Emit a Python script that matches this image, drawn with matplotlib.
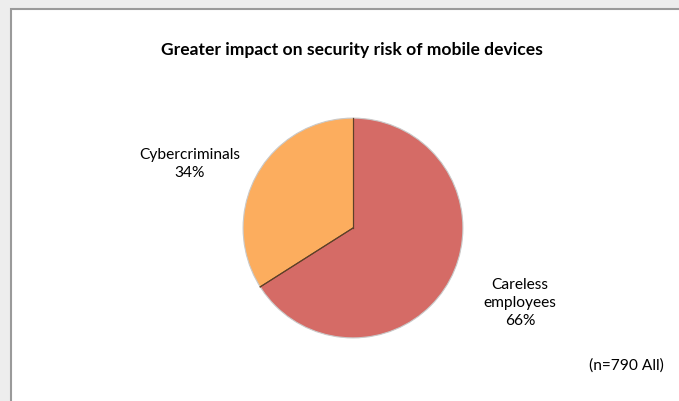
import matplotlib
matplotlib.use("Agg")
import numpy as np
import matplotlib.pyplot as plt
from matplotlib.patches import Rectangle, Circle

# survey answers
labels = ["Careless\nemployees", "Cybercriminals"]
shares = [66, 34]
colors = ["#D56B66", "#FCAD5E"]

W, H = 679, 402
fig = plt.figure(figsize=(W / 100, H / 100), dpi=100)
fig.patch.set_facecolor("#ededed")

# chart frame, drawn in a background axes spanning the figure
bg = fig.add_axes([0, 0, 1, 1], zorder=0)
bg.set_xlim(0, W)
bg.set_ylim(H, 0)
bg.axis("off")
bg.add_patch(Rectangle((11, 10), W + 20, H + 20, facecolor="white",
                       edgecolor="#9a9a9a", linewidth=1.5))

cx, cy, r = 353, 229, 111
ax = fig.add_axes([(cx - r) / W, (H - cy - r) / H, 2 * r / W, 2 * r / H], zorder=1)
wedges, _ = ax.pie(shares, colors=colors, startangle=90, counterclock=False, radius=1,
                   wedgeprops=dict(edgecolor="none"))
# soft rim round the pie
ax.add_patch(Circle((0, 0), 1, facecolor="none", edgecolor="#c9c9c9", linewidth=0.8))
# dark dividers between the slices
for w in wedges:
    for ang in (w.theta1, w.theta2):
        t = np.deg2rad(ang)
        ax.plot([0, np.cos(t)], [0, np.sin(t)], color="#5e4028", linewidth=0.8)
ax.set_xlim(-1.01, 1.01)
ax.set_ylim(-1.01, 1.01)
ax.set_aspect("auto")
ax.axis("off")

font = "Lato"
fig.text(352 / W, 1 - 50 / H, "Greater impact on security risk of mobile devices",
         ha="center", va="center", fontsize=12.6, fontweight="bold", family=font)

fig.text(190 / W, 1 - 164 / H, f"{labels[1]}\n{shares[1]}%", ha="center", va="center",
         fontsize=11.2, family=font, linespacing=1.32)
fig.text(520 / W, 1 - 303 / H, f"{labels[0]}\n{shares[0]}%", ha="center", va="center",
         fontsize=11.2, family=font, linespacing=1.32)
fig.text(626 / W, 1 - 366 / H, "(n=790 All)", ha="center", va="center",
         fontsize=11.2, family=font)

fig.savefig("out.png", dpi=100, facecolor=fig.get_facecolor())
